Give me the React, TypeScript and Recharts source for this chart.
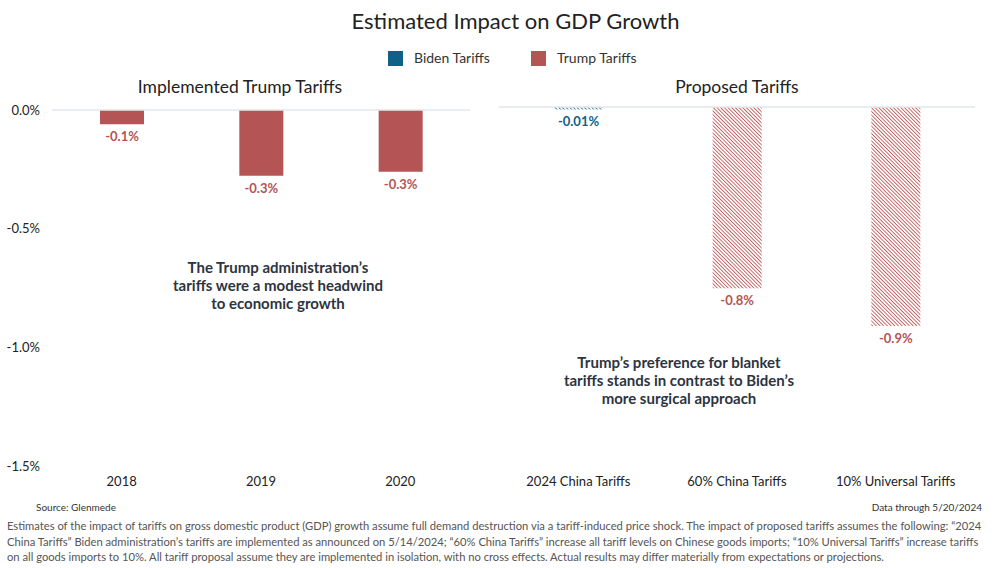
import { BarChart, Bar, XAxis, YAxis, Cell, LabelList, ReferenceLine } from "recharts";

const implementedYears = ["2018", "2019", "2020"];
const implementedImpact = [-0.06, -0.277, -0.26];

const proposedNames = ["2024 China Tariffs", "60% China Tariffs", "10% Universal Tariffs"];
const proposedImpact = [-0.01, -0.757, -0.915];
const proposedBy = ["Biden", "Trump", "Trump"];

const yTicks = [0, -0.5, -1, -1.5];

const footnoteLines = [
  "Estimates of the impact of tariffs on gross domestic product (GDP) growth assume full demand destruction via a tariff-induced price shock. The impact of proposed tariffs assumes the following: \u201c2024",
  "China Tariffs\u201d Biden administration\u2019s tariffs are implemented as announced on 5/14/2024; \u201c60% China Tariffs\u201d increase all tariff levels on Chinese goods imports; \u201c10% Universal Tariffs\u201d increase tariffs",
  "on all goods imports to 10%. All tariff proposal assume they are implemented in isolation, with no cross effects. Actual results may differ materially from expectations or projections.",
];

const BLUE = "#0f6287";
const RED = "#b45454";
const FONT = "Lato, 'Noto Sans', sans-serif";

const implementedData = implementedYears.map((year, i) => ({ name: year, value: implementedImpact[i] }));
const proposedData = proposedNames.map((name, i) => ({ name, value: proposedImpact[i], by: proposedBy[i] }));

const fmtPct = (v: number) => (Math.abs(v) < 0.05 ? v.toFixed(2) : v.toFixed(1)) + "%";

// label under the (negative) bar
const makeLabel = (colorOf: (i: number) => string) => (props: any) => {
  const { x, y, width, height, value, index } = props;
  const bottom = Math.max(y, y + height);
  return (
    <text
      x={x + width / 2}
      y={bottom + 17}
      textAnchor="middle"
      fill={colorOf(index)}
      fontSize={13}
      fontWeight={700}
      fontFamily={FONT}
    >
      {fmtPct(value)}
    </text>
  );
};

const tickStyle = { fill: "#222", fontSize: 13, fontFamily: FONT };

const abs = (left: number, top: number, extra: any = {}) => ({
  position: "absolute" as const,
  left,
  top,
  ...extra,
});

const Note = ({ cx, top, lines }: { cx: number; top: number; lines: string[] }) => (
  <div
    style={abs(cx - 150, top, {
      width: 300,
      textAlign: "center",
      fontFamily: FONT,
      fontWeight: 700,
      fontSize: 15,
      lineHeight: "18px",
      color: "#2d3440",
    })}
  >
    {lines.map((l) => (
      <div key={l}>{l}</div>
    ))}
  </div>
);

export default function App() {
  return (
    <div style={abs(0, 0, { width: 1001, height: 568, background: "#fff", fontFamily: FONT, overflow: "hidden" })}>
      <div style={abs(0, 7, { width: 1031, textAlign: "center", fontSize: 22, color: "#222" })}>
        Estimated Impact on GDP Growth
      </div>

      {/* legend */}
      <div style={abs(388, 51, { width: 15, height: 15, background: BLUE })} />
      <div style={abs(414, 49, { fontSize: 14, color: "#333" })}>Biden Tariffs</div>
      <div style={abs(531, 51, { width: 15, height: 15, background: RED })} />
      <div style={abs(557, 49, { fontSize: 14, color: "#333" })}>Trump Tariffs</div>

      <div style={abs(40, 76, { width: 400, textAlign: "center", fontSize: 17.5, color: "#222" })}>
        Implemented Trump Tariffs
      </div>
      <div style={abs(537, 76, { width: 400, textAlign: "center", fontSize: 17.5, color: "#222" })}>
        Proposed Tariffs
      </div>

      <div style={abs(0, 0)}>
        <BarChart width={480} height={500} data={implementedData} margin={{ top: 110, right: 10, bottom: 0, left: 0 }}>
          <YAxis
            type="number"
            domain={[-1.5, 0]}
            ticks={yTicks}
            width={52}
            axisLine={false}
            tickLine={false}
            tickSize={0}
            tickMargin={12}
            tick={tickStyle}
            tickFormatter={(v: number) => v.toFixed(1) + "%"}
          />
          <XAxis
            dataKey="name"
            height={34}
            axisLine={false}
            tickLine={false}
            tickSize={0}
            tickMargin={11}
            tick={tickStyle}
          />
          <ReferenceLine y={0} stroke="#e2e7ee" strokeWidth={1.5} />
          <Bar dataKey="value" fill={RED} barSize={44} isAnimationActive={false}>
            <LabelList dataKey="value" content={makeLabel(() => RED)} />
          </Bar>
        </BarChart>
      </div>

      <div style={abs(480, 0)}>
        <BarChart width={510} height={500} data={proposedData} margin={{ top: 107, right: 15, bottom: 0, left: 19 }}>
          <defs>
            <pattern id="hatchRed" width="2.6" height="2.6" patternUnits="userSpaceOnUse" patternTransform="rotate(-45)">
              <rect width="2.6" height="2.6" fill="#fff" />
              <line x1="0" y1="0" x2="0" y2="2.6" stroke="#c45c5c" strokeWidth="1.8" />
            </pattern>
            <pattern id="hatchBlue" width="2.6" height="2.6" patternUnits="userSpaceOnUse" patternTransform="rotate(-45)">
              <rect width="2.6" height="2.6" fill="#fff" />
              <line x1="0" y1="0" x2="0" y2="2.6" stroke="#2a78a0" strokeWidth="1.8" />
            </pattern>
          </defs>
          <YAxis type="number" domain={[-1.5, 0]} ticks={yTicks} hide />
          <XAxis
            dataKey="name"
            height={34}
            axisLine={false}
            tickLine={false}
            tickSize={0}
            tickMargin={11}
            tick={tickStyle}
          />
          <ReferenceLine y={0} stroke="#e2e7ee" strokeWidth={1.5} />
          <Bar dataKey="value" barSize={49} isAnimationActive={false}>
            {proposedData.map((d) => (
              <Cell key={d.name} fill={d.by === "Biden" ? "url(#hatchBlue)" : "url(#hatchRed)"} />
            ))}
            <LabelList
              dataKey="value"
              content={makeLabel((i) => (proposedData[i].by === "Biden" ? BLUE : RED))}
            />
          </Bar>
        </BarChart>
      </div>

      <Note
        cx={278}
        top={258}
        lines={["The Trump administration\u2019s", "tariffs were a modest headwind", "to economic growth"]}
      />
      <Note
        cx={679}
        top={353}
        lines={["Trump\u2019s preference for blanket", "tariffs stands in contrast to Biden\u2019s", "more surgical approach"]}
      />

      <div style={abs(36, 501, { fontSize: 10, color: "#333" })}>Source: Glenmede</div>
      <div style={abs(0, 501, { width: 982, textAlign: "right", fontSize: 10, color: "#333" })}>
        Data through 5/20/2024
      </div>
      <div style={abs(7, 518, { width: 990, fontSize: 11.2, lineHeight: "15.5px", color: "#555", whiteSpace: "nowrap" })}>
        {footnoteLines.map((l) => (
          <div key={l}>{l}</div>
        ))}
      </div>
    </div>
  );
}
